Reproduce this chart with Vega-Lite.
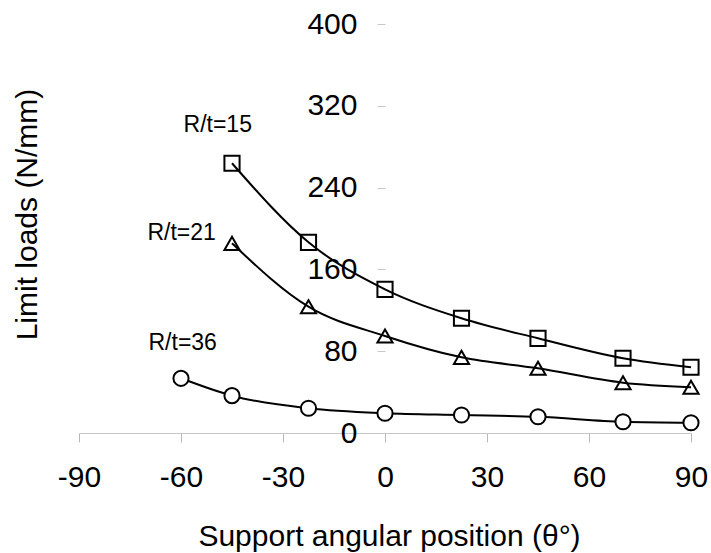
{
  "$schema": "https://vega.github.io/schema/vega-lite/v6.json",
  "autosize": {"type": "none"},
  "width": 612,
  "height": 409,
  "padding": {"left": 79, "top": 24, "right": 20, "bottom": 120},
  "background": "white",
  "config": {
    "view": {"stroke": null},
    "font": "Liberation Sans"
  },
  "datasets": {
    "pts": [
      {"angle": -45, "load": 263.8, "series": "R/t=15"},
      {"angle": -22.5, "load": 186.5, "series": "R/t=15"},
      {"angle": 0, "load": 140.5, "series": "R/t=15"},
      {"angle": 22.5, "load": 112.2, "series": "R/t=15"},
      {"angle": 45, "load": 92.6, "series": "R/t=15"},
      {"angle": 70, "load": 73.1, "series": "R/t=15"},
      {"angle": 90, "load": 64.3, "series": "R/t=15"},
      {"angle": -45, "load": 185.5, "series": "R/t=21"},
      {"angle": -22.5, "load": 123.5, "series": "R/t=21"},
      {"angle": 0, "load": 94.9, "series": "R/t=21"},
      {"angle": 22.5, "load": 74.0, "series": "R/t=21"},
      {"angle": 45, "load": 63.3, "series": "R/t=21"},
      {"angle": 70, "load": 49.2, "series": "R/t=21"},
      {"angle": 90, "load": 44.7, "series": "R/t=21"},
      {"angle": -60, "load": 53.5, "series": "R/t=36"},
      {"angle": -45, "load": 36.5, "series": "R/t=36"},
      {"angle": -22.5, "load": 24.2, "series": "R/t=36"},
      {"angle": 0, "load": 19.3, "series": "R/t=36"},
      {"angle": 22.5, "load": 17.6, "series": "R/t=36"},
      {"angle": 45, "load": 15.9, "series": "R/t=36"},
      {"angle": 70, "load": 11.0, "series": "R/t=36"},
      {"angle": 90, "load": 10.0, "series": "R/t=36"}
    ],
    "labels": [
      {"angle": -49.2, "load": 301, "text": "R/t=15"},
      {"angle": -59.8, "load": 195.6, "text": "R/t=21"},
      {"angle": -59.5, "load": 88, "text": "R/t=36"}
    ]
  },
  "encoding": {
    "x": {
      "field": "angle", "type": "quantitative",
      "scale": {"domain": [-90, 90], "nice": false, "zero": false},
      "axis": {
        "values": [-90, -60, -30, 0, 30, 60, 90],
        "labelExpr": "datum.value + ''",
        "title": "Support angular position (θ°)",
        "grid": false,
        "domainColor": "#c8c8c8",
        "tickColor": "#b8b8b8",
        "tickSize": 9,
        "labelFontSize": 30,
        "labelColor": "black",
        "labelFont": "Liberation Sans",
        "labelPadding": 20,
        "labelFlush": false,
        "titleFontSize": 30,
        "titleFontWeight": "normal",
        "titleColor": "black",
        "titleFont": "Liberation Sans",
        "titleBaseline": "alphabetic",
        "titleX": 310,
        "titleY": 112
      }
    },
    "y": {
      "field": "load", "type": "quantitative",
      "scale": {"domain": [0, 400], "nice": false},
      "axis": {
        "values": [0, 80, 160, 240, 320, 400],
        "offset": -306,
        "domain": false,
        "grid": false,
        "tickColor": "#c8c8c8",
        "tickSize": 8,
        "labelFontSize": 30,
        "labelColor": "black",
        "labelFont": "Liberation Sans",
        "labelPadding": 20,
        "labelFlush": false,
        "title": "Limit loads (N/mm)",
        "titleFontSize": 30,
        "titleFontWeight": "normal",
        "titleColor": "black",
        "titleFont": "Liberation Sans",
        "titleBaseline": "alphabetic",
        "titleAngle": -90,
        "titleX": -349,
        "titleY": 190
      }
    }
  },
  "layer": [
    {
      "data": {"name": "pts"},
      "mark": {"type": "line", "interpolate": "monotone", "color": "black", "strokeWidth": 2},
      "encoding": {"detail": {"field": "series", "type": "nominal"}}
    },
    {
      "data": {"name": "pts"},
      "mark": {"type": "point", "filled": true, "stroke": "black", "strokeWidth": 2, "opacity": 1, "size": 230},
      "encoding": {
        "shape": {
          "field": "series", "type": "nominal",
          "scale": {"domain": ["R/t=15", "R/t=21", "R/t=36"], "range": ["square", "triangle-up", "circle"]},
          "legend": null
        },
        "fill": {
          "field": "series", "type": "nominal",
          "scale": {"domain": ["R/t=15", "R/t=21", "R/t=36"], "range": ["transparent", "transparent", "white"]},
          "legend": null
        }
      }
    },
    {
      "data": {"name": "labels"},
      "mark": {"type": "text", "fontSize": 23, "font": "Liberation Sans", "color": "black", "align": "center", "baseline": "middle"},
      "encoding": {"text": {"field": "text", "type": "nominal"}}
    }
  ]
}
